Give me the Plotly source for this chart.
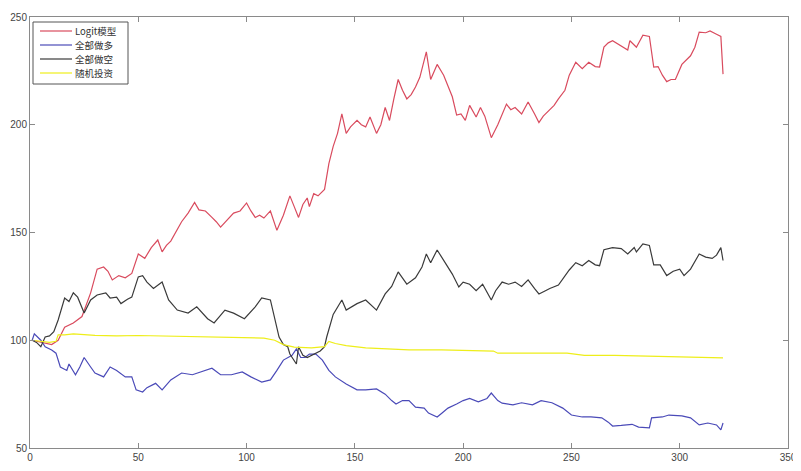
import plotly.graph_objects as go

# ---- data ----
logit_x = [1, 5, 10, 13, 16, 20, 24, 28, 31, 34, 36, 38, 41, 44, 47, 50, 53, 56, 59, 61, 63, 65, 68, 70, 73, 76, 78, 81, 84, 86, 88, 91, 94, 97, 100, 102, 104, 106, 108, 111, 114, 117, 120, 122, 124, 126, 128, 129, 131, 133, 136, 138, 140, 142, 144, 146, 148, 151, 153, 155, 157, 160, 162, 164, 166, 168, 170, 172, 174, 176, 178, 180, 183, 185, 188, 191, 193, 195, 197, 199, 201, 203, 206, 208, 210, 213, 216, 220, 222, 224, 227, 230, 233, 235, 237, 240, 242, 244, 247, 249, 252, 255, 258, 261, 263, 265, 267, 269, 272, 274, 276, 277, 280, 283, 286, 288, 290, 292, 294, 296, 298, 301, 303, 305, 307, 309, 312, 314, 317, 319, 320]
logit_y = [100, 99, 98, 100, 106, 108, 111, 122, 133, 134, 132, 128, 130, 129, 131, 140, 138, 143, 146.5, 141, 144, 146, 151, 155, 159, 164, 160.5, 160, 157, 155, 152.5, 156, 159, 160, 163.7, 160, 157, 158, 156.7, 160, 151, 158, 167, 162, 157, 163, 166, 162, 168, 167, 170, 182, 190, 196, 205, 196, 199, 202, 200, 199, 203.6, 196, 200, 208, 202, 212, 221, 216, 212, 214, 217.5, 222, 233.8, 221, 228, 223, 218, 213, 204.5, 205, 202, 209, 203.6, 208, 204, 194, 200, 209.6, 207, 208, 205, 210.6, 205, 201, 204, 207, 209, 212, 216, 223, 229, 226, 229, 227, 226.8, 236, 238, 239, 237, 236, 234.7, 239, 236, 241.6, 241, 226.8, 227, 223, 220, 221, 221, 228, 230, 232, 236, 243, 242.7, 243.5, 242, 241, 223.5]

long_x = [1, 2, 5, 7, 10, 12, 14, 17, 18, 21, 23, 25, 28, 30, 34, 37, 40, 44, 47, 49, 52, 54, 58, 61, 65, 70, 75, 79, 84, 88, 93, 98, 102, 107, 111, 114, 117, 121, 123, 125, 127, 129, 132, 135, 138, 141, 143, 146, 151, 155, 160, 164, 167, 169, 172, 175, 178, 182, 184, 188, 190, 193, 197, 200, 203, 207, 211, 213, 216, 218, 223, 227, 232, 236, 241, 246, 250, 255, 259, 264, 267, 269, 273, 278, 281, 286, 287, 292, 295, 298, 301, 305, 309, 313, 317, 319, 320]
long_y = [100, 103, 100, 97, 95.5, 94, 87.6, 86, 89, 84, 87.6, 92, 87.6, 84.8, 83, 87.6, 86, 83, 83, 77, 76, 78, 80, 77, 81.6, 84.8, 84, 85.3, 87, 84, 84, 85.3, 83, 80.6, 81.6, 86, 90.8, 93, 96, 92, 92, 93.6, 93.6, 90.8, 86, 83, 81.6, 79.7, 77, 77, 77.4, 75, 72, 70.4, 72, 72, 69, 68.5, 66.2, 64.4, 66, 68.5, 70.4, 72, 73, 71.4, 73, 75.5, 72, 70.8, 70, 71, 70, 72, 71, 68.5, 65.3, 64.4, 64.4, 64, 62, 60.2, 60.5, 61, 59.7, 59.3, 64, 64.4, 65.3, 65, 64.9, 64, 60.7, 61.6, 60.7, 58.4, 61.6]

short_x = [1, 3, 5, 7, 9, 11, 13, 16, 18, 20, 22, 25, 28, 31, 35, 37, 40, 42, 45, 47, 50, 52, 54, 57, 61, 64, 68, 73, 77, 82, 85, 90, 94, 99, 104, 107, 111, 113, 115, 117, 119, 120, 123, 124, 126, 128, 131, 134, 136, 137, 140, 144, 146, 151, 155, 160, 164, 167, 170, 174, 178, 181, 183, 185, 188, 192, 195, 198, 200, 203, 206, 209, 213, 215, 218, 221, 224, 227, 230, 233, 235, 238, 240, 244, 247, 249, 252, 255, 258, 261, 263, 265, 269, 273, 276, 279, 280, 283, 286, 288, 291, 294, 297, 300, 302, 305, 309, 312, 315, 317, 319, 320]
short_y = [100, 99, 97, 101.5, 102, 104, 109.4, 119.6, 118, 122, 120, 112.6, 118.7, 121, 122, 119.6, 120, 117, 119, 120, 129.4, 130, 127, 124, 127, 118.7, 114, 112.6, 115.5, 110, 108, 114, 112.6, 110, 115.5, 119.6, 118.7, 109.4, 101.5, 98, 97, 93.6, 89, 97, 93, 92, 93.6, 95, 97, 101.5, 112, 118.7, 114, 117, 118.7, 114, 121.5, 125, 131.7, 126, 129, 134, 140, 136, 141.9, 135.5, 130.7, 124.7, 127, 126, 123, 126, 118.7, 123, 127, 126, 127, 125, 128, 124, 121.5, 123, 124, 125.6, 130, 132.6, 136, 134.6, 137, 135, 134.6, 142, 143, 142.5, 140, 143, 141, 144.7, 144, 135, 135, 130, 132, 133, 130, 133, 140, 138.6, 138, 139.5, 143, 137]

rand_x = [1, 5, 9, 12, 13, 16, 20, 30, 40, 50, 60, 70, 80, 90, 100, 108, 113, 117, 122, 130, 136, 138, 141, 146, 155, 165, 175, 190, 205, 214, 216, 230, 248, 256, 270, 290, 305, 320]
rand_y = [100, 99.5, 99, 99.5, 102.5, 102.5, 103, 102.3, 102, 102.2, 102, 101.8, 101.8, 101.5, 101.2, 101, 100, 98, 96.8, 96.5, 97, 99.5, 98.5, 97.5, 96.5, 96, 95.5, 95.5, 95.3, 95, 94, 94, 94, 93, 93, 92.5, 92, 91.8]

names = ["Logit模型", "全部做多", "全部做空", "随机投资"]
colors = ["#d94b5e", "#4a4ab8", "#3a3a3a", "#eeee1a"]
xs = [logit_x, long_x, short_x, rand_x]
ys = [logit_y, long_y, short_y, rand_y]

x_ticks = [0, 50, 100, 150, 200, 250, 300, 350]
y_ticks = [50, 100, 150, 200, 250]

# page body has an 8px default margin; size the figure to fit the window
W, H = 793, 463
ML, MT, MR, MB = 22, 9, 13, 23
PW, PH = W - ML - MR, H - MT - MB

def fx(px):  # window pixel x -> x-domain fraction
    return (px - 8 - ML) / PW

def fy(py):  # window pixel y -> y-domain fraction
    return 1 - (py - 8 - MT) / PH

fig = go.Figure()
for n, c, x, y in zip(names, colors, xs, ys):
    fig.add_trace(go.Scatter(x=x, y=y, mode="lines", name=n,
                             line=dict(color=c, width=1.2)))

axis_common = dict(
    showgrid=False, zeroline=False, showline=True, linecolor="#8a8a8a",
    linewidth=1, mirror="ticks", ticks="inside", ticklen=5, automargin=False,
    tickcolor="#8a8a8a", tickfont=dict(family="Liberation Sans, Arial", size=10, color="#444"),
)
fig.update_xaxes(range=[0, 350], tickvals=x_ticks, **axis_common)
fig.update_yaxes(range=[50, 250], tickvals=y_ticks, **axis_common)

# custom legend box (compact, MATLAB style)
shapes = [dict(type="rect", xref="x domain", yref="y domain",
               x0=fx(33), x1=fx(128), y0=fy(84), y1=fy(22),
               line=dict(color="#555", width=1), fillcolor="white", layer="above")]
annotations = []
row_y = [31, 45, 59, 73]
for n, c, ry in zip(names, colors, row_y):
    shapes.append(dict(type="line", xref="x domain", yref="y domain",
                       x0=fx(40), x1=fx(72), y0=fy(ry), y1=fy(ry),
                       line=dict(color=c, width=1.2), layer="above"))
    annotations.append(dict(xref="x domain", yref="y domain", x=fx(74), y=fy(ry),
                            text=n, showarrow=False, xanchor="left", yanchor="middle",
                            borderpad=0,
                            font=dict(family="Noto Sans CJK SC, Liberation Sans", size=9.5, color="#333")))

fig.update_layout(
    width=W, height=H,
    margin=dict(l=ML, r=MR, t=MT, b=MB, autoexpand=False),
    paper_bgcolor="white", plot_bgcolor="white",
    showlegend=False,
    shapes=shapes, annotations=annotations,
)

fig.write_html("out.html")
